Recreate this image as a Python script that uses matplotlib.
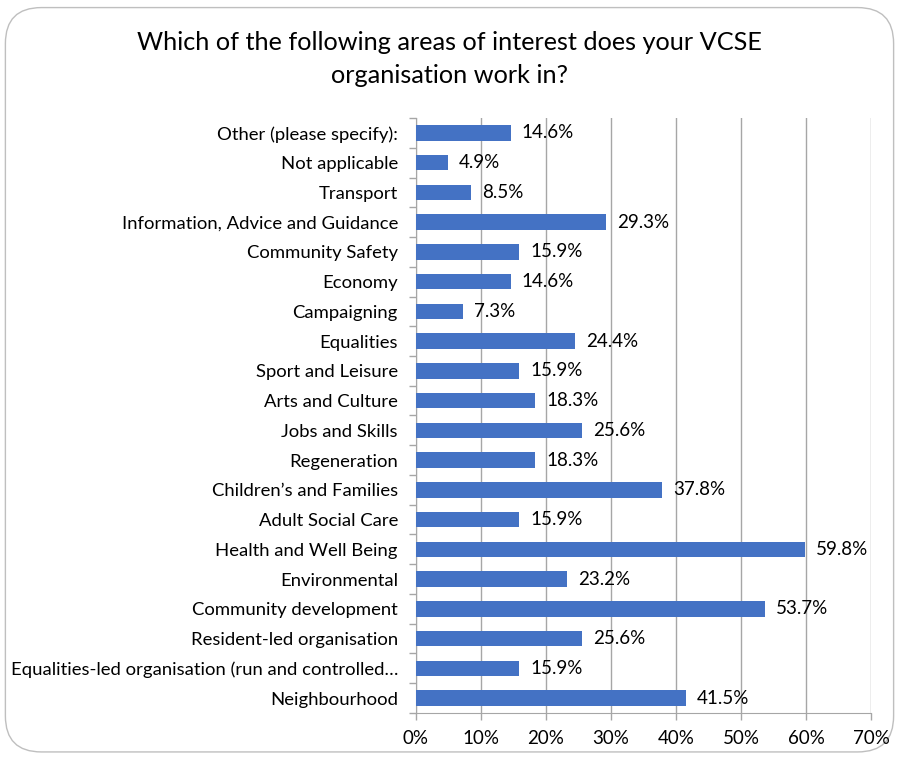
import matplotlib
matplotlib.use("Agg")
import matplotlib.pyplot as plt
from matplotlib.patches import FancyBboxPatch

categories = [
    "Neighbourhood",
    "Equalities-led organisation (run and controlled…",
    "Resident-led organisation",
    "Community development",
    "Environmental",
    "Health and Well Being",
    "Adult Social Care",
    "Children’s and Families",
    "Regeneration",
    "Jobs and Skills",
    "Arts and Culture",
    "Sport and Leisure",
    "Equalities",
    "Campaigning",
    "Economy",
    "Community Safety",
    "Information, Advice and Guidance",
    "Transport",
    "Not applicable",
    "Other (please specify):",
]
values = [41.5, 15.9, 25.6, 53.7, 23.2, 59.8, 15.9, 37.8, 18.3, 25.6,
          18.3, 15.9, 24.4, 7.3, 14.6, 15.9, 29.3, 8.5, 4.9, 14.6]
xticks = [0, 10, 20, 30, 40, 50, 60, 70]
title = "Which of the following areas of interest does your VCSE\norganisation work in?"

plt.rcParams['font.family'] = ['Lato', 'DejaVu Sans']

fig = plt.figure(figsize=(8.99, 7.58), dpi=100)
frame = FancyBboxPatch((0.006, 0.008), 0.988, 0.982,
                       boxstyle="round,pad=0,rounding_size=0.04",
                       transform=fig.transFigure, facecolor="white",
                       edgecolor="#bfbfbf", linewidth=1.0,
                       mutation_aspect=899/758, zorder=-10)
fig.patches.append(frame)

ax = fig.add_axes([0.4627, 0.0594, 0.5062, 0.7849])
ax.set_zorder(5)
ax.set_facecolor("none")
y = list(range(len(categories)))
ax.barh(y, values, height=0.52, color="#4472C4", zorder=3)
for yi, v in zip(y, values):
    ax.text(v + 1.7, yi, f"{v:.1f}%", va="center", ha="left", fontsize=13.5, color="#000000", zorder=4)

ax.set_xlim(0, 70)
ax.set_ylim(-0.5, len(categories) - 0.5)
ax.set_xticks(xticks)
ax.set_xticklabels([f"{t}%" for t in xticks], fontsize=13.5)
ax.set_yticks(y)
ax.set_yticklabels(categories, fontsize=13.3)
ax.set_yticks([i - 0.5 for i in range(len(categories) + 1)], minor=True)
ax.tick_params(axis='y', which='major', length=0, pad=13)
ax.tick_params(axis='y', which='minor', length=5, color="#a6a6a6", width=1)
ax.tick_params(axis='x', length=5, color="#a6a6a6", width=1, pad=7)
ax.grid(axis='x', color="#a6a6a6", linewidth=1, zorder=0)
for s in ["top", "right"]:
    ax.spines[s].set_visible(False)
ax.spines["left"].set_color("#a6a6a6")
ax.spines["bottom"].set_color("#a6a6a6")

fig.text(0.5, 0.922, title, ha="center", va="center", fontsize=18.2, linespacing=1.55)

fig.savefig("out.png", dpi=100)
